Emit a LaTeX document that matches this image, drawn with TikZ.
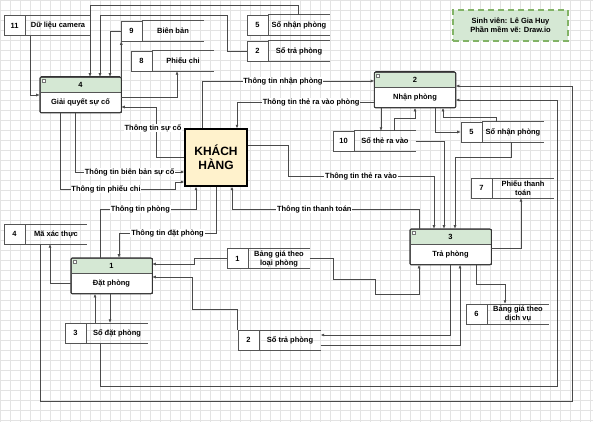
\documentclass[tikz,border=0pt]{standalone}
\usepackage{fontspec}
\setmainfont{Liberation Sans}
\usepackage{xcolor}
\usetikzlibrary{positioning,arrows.meta}

\definecolor{headgreen}{HTML}{D5E8D4}
\definecolor{svborder}{HTML}{82B366}
\definecolor{khfill}{HTML}{FFF2CC}
\definecolor{edgecol}{HTML}{4A4A4A}
\definecolor{gridcol}{HTML}{E3E3E3}
\definecolor{storeline}{HTML}{555555}

\tikzset{
  flow/.style={draw=edgecol, line width=0.6pt, -{Latex[length=3.5pt,width=3pt]}},
  lab/.style={fill=white, inner sep=0.8pt},
  prochead/.style={draw=storeline, fill=headgreen, line width=0.6pt, minimum width=81pt, minimum height=15pt, inner sep=0pt},
  procbody/.style={draw=storeline, fill=white, line width=0.6pt, minimum width=81pt, minimum height=20pt, inner sep=0pt},
  procframe/.style={draw=black!80, line width=0.9pt, rounded corners=1.5pt},
  storenum/.style={draw=storeline, fill=white, line width=0.6pt, minimum width=21pt, minimum height=20pt, inner sep=0pt},
  storetxt/.style={minimum width=61pt, minimum height=20pt, inner sep=1pt, align=center,
    append after command={(\tikzlastnode.north west) edge[draw=storeline, line width=0.6pt] (\tikzlastnode.north east)
      (\tikzlastnode.south west) edge[draw=storeline, line width=0.6pt] (\tikzlastnode.south east)}},
  khbox/.style={draw=black, fill=khfill, line width=1.4pt, minimum width=62pt, minimum height=57pt, align=center, font=\fontsize{12}{14}\selectfont\bfseries},
  svbox/.style={draw=svborder, fill=headgreen, line width=1.8pt, dash pattern=on 6pt off 4pt, minimum width=115pt, minimum height=31pt, align=center}
}

\begin{document}
\begin{tikzpicture}[x=1pt, y=-1pt, every node/.style={font=\fontsize{7.5}{9}\selectfont\bfseries}]
\useasboundingbox (0,0) rectangle (593,422);
\fill[white] (0,0) rectangle (593,422);

% grid
\foreach \gx in {0,10,...,590} \draw[gridcol, line width=0.4pt] (\gx,0) -- (\gx,422);
\foreach \gy in {0,10,...,420} \draw[gridcol, line width=0.4pt] (0,\gy) -- (593,\gy);

% processes
\node[prochead] (p4h) at (80.5,84.5) {4};
\node[procbody, below=0pt of p4h] (p4) {Giải quyết sự cố};
\node[prochead] (p2h) at (415,79.5) {2};
\node[procbody, below=0pt of p2h] (p2) {Nhận phòng};
\node[prochead] (p3h) at (450.5,236.5) {3};
\node[procbody, below=0pt of p3h] (p3) {Trả phòng};
\node[prochead] (p1h) at (111.5,265.5) {1};
\node[procbody, below=0pt of p1h] (p1) {Đặt phòng};

\foreach \pn in {p1,p2,p3,p4} {
  \draw[procframe] (\pn h.north west) rectangle (\pn.south east);
  \draw[black!55, fill=white, line width=0.3pt] ([shift={(2pt,-2pt)}]\pn h.north west) rectangle ++(3,3);
}

% external entity
\node[khbox] (kh) at (216,157.5) {KHÁCH\\HÀNG};

% student note
\node[svbox] (sv) at (510.5,25.5) {Sinh viên: Lê Gia Huy\\Phần mềm vẽ: Draw.io};

% data stores
\node[storenum] (s11n) at (14.5,25.5) {11};
\node[storetxt, right=0pt of s11n, minimum width=65pt] (s11) {Dữ liệu camera};
\node[storenum] (s9n) at (131.5,31) {9};
\node[storetxt, right=0pt of s9n] (s9) {Biên bản};
\node[storenum] (s8n) at (141.5,61) {8};
\node[storetxt, right=0pt of s8n] (s8) {Phiếu chi};
\node[storenum] (s5an) at (257.5,25) {5};
\node[storetxt, right=0pt of s5an] (s5a) {Sổ nhận phòng};
\node[storenum] (s2an) at (257.5,51) {2};
\node[storetxt, right=0pt of s2an] (s2a) {Sổ trả phòng};
\node[storenum] (s10n) at (343.5,141) {10};
\node[storetxt, right=0pt of s10n] (s10) {Sổ thẻ ra vào};
\node[storenum] (s5bn) at (471.5,132) {5};
\node[storetxt, right=0pt of s5bn] (s5b) {Sổ nhận phòng};
\node[storenum] (s7n) at (481.5,188) {7};
\node[storetxt, right=0pt of s7n] (s7) {Phiếu thanh\\toán};
\node[storenum] (s4n) at (14.5,234) {4};
\node[storetxt, right=0pt of s4n] (s4) {Mã xác thực};
\node[storenum] (s1n) at (237.5,258.5) {1};
\node[storetxt, right=0pt of s1n] (s1) {Bảng giá theo\\loại phòng};
\node[storenum] (s3n) at (75.5,333) {3};
\node[storetxt, right=0pt of s3n] (s3) {Sổ đặt phòng};
\node[storenum] (s2bn) at (248.5,340) {2};
\node[storetxt, right=0pt of s2bn] (s2b) {Sổ trả phòng};
\node[storenum] (s6n) at (476.5,314) {6};
\node[storetxt, right=0pt of s6n] (s6) {Bảng giá theo\\dịch vụ};

% flows around process 4
\draw[flow] (30,0 |- s11.south) |- (p4.west |- 0,95);
\draw[flow] (298,0 |- s5a.north) |- (90,5) -- (90,0 |- p4h.north);
\draw[flow] (s2an.west) -| (227,15) -| (100,0 |- p4h.north);
\draw[flow] (s9n.west) -| (110,0 |- p4h.north);
\draw[flow] (p4h.north east) -- (p4h.north east |- s9n.south);
\draw[flow] (p4.east |- 0,97) -| (177,0 |- s8.south);
\draw[flow] (kh.west |- 0,157) -| node[lab, pos=0.79, xshift=-3pt] {Thông tin sự cố} (156,107) -- (p4.east |- 0,107);
\draw[flow] (75,0 |- p4.south) |- node[lab, pos=0.75] {Thông tin biên bản sự cố} (kh.west |- 0,172);
\draw[flow] (60,0 |- p4.south) |- node[lab, pos=0.7] {Thông tin phiếu chi} (175,189) |- (kh.west |- 0,182);

% flows around process 2
\draw[flow] (202,0 |- kh.north) |- node[lab, pos=0.735] {Thông tin nhận phòng} (p2h.west |- 0,81);
\draw[flow] (p2.west |- 0,102) -| node[lab, pos=0.23] {Thông tin thẻ ra vào phòng} (237,0 |- kh.north);
\draw[flow] (381,0 |- p2.south) -- (381,0 |- s10.north);
\draw[flow] (394,0 |- s10.north) |- (415,118) -- (415,0 |- p2.south);
\draw[flow] (435,0 |- p2.south) |- (s5bn.west);
\draw[flow] (496,0 |- s5b.north) |- (443,117) -- (443,0 |- p2.south);
\draw[flow] (100,0 |- s3.south) |- (557,386) |- (p2.east |- 0,100);
\draw[flow] (40,0 |- s4.south) |- (572,401) |- (p2h.east |- 0,86);

% flows around process 3
\draw[flow] (kh.east |- 0,145) -| (288,176) -| node[lab, pos=0.25] {Thông tin thẻ ra vào} (434,0 |- p3h.north);
\draw[flow] (s10.east) -| (444,0 |- p3h.north);
\draw[flow] (511,0 |- s5b.south) |- (455,157) -- (455,0 |- p3h.north);
\draw[flow] (p3.east |- 0,248) -| (521,0 |- s7.south);
\draw[flow] (419,0 |- p3h.north) |- node[lab, pos=0.78] {Thông tin thanh toán} (232,209) -- (232,0 |- kh.south);
\draw[flow] (476,0 |- p3.south) |- (505,284) -- (505,0 |- s6.north);
\draw[flow] (s1.east) -| (333,279) -| (375,294) -| (419,0 |- p3.south);
\draw[flow] (450,0 |- p3.south) |- (s2b.east |- 0,335);
\draw[flow] (s2b.east |- 0,345) -| (460,0 |- p3.south);

% flows around process 1
\draw[flow] (s1n.west) -| (194,264) -- (p1h.east |- 0,264);
\draw[flow] (s2bn.north west) |- (192,309) |- (p1.east |- 0,277);
\draw[flow] (p1.west |- 0,283) -| (50,0 |- s4.south);
\draw[flow] (216,0 |- kh.south) |- node[lab, pos=0.75] {Thông tin đặt phòng} (119,233) -- (119,0 |- p1h.north);
\draw[flow] (100,0 |- p1h.north) |- node[lab, pos=0.71] {Thông tin phòng} (196,209) -- (196,0 |- kh.south);
\draw[flow] (95,0 |- s3.north) -- (95,0 |- p1.south);
\draw[flow] (110,0 |- p1.south) -- (110,0 |- s3.north);
\end{tikzpicture}
\end{document}
